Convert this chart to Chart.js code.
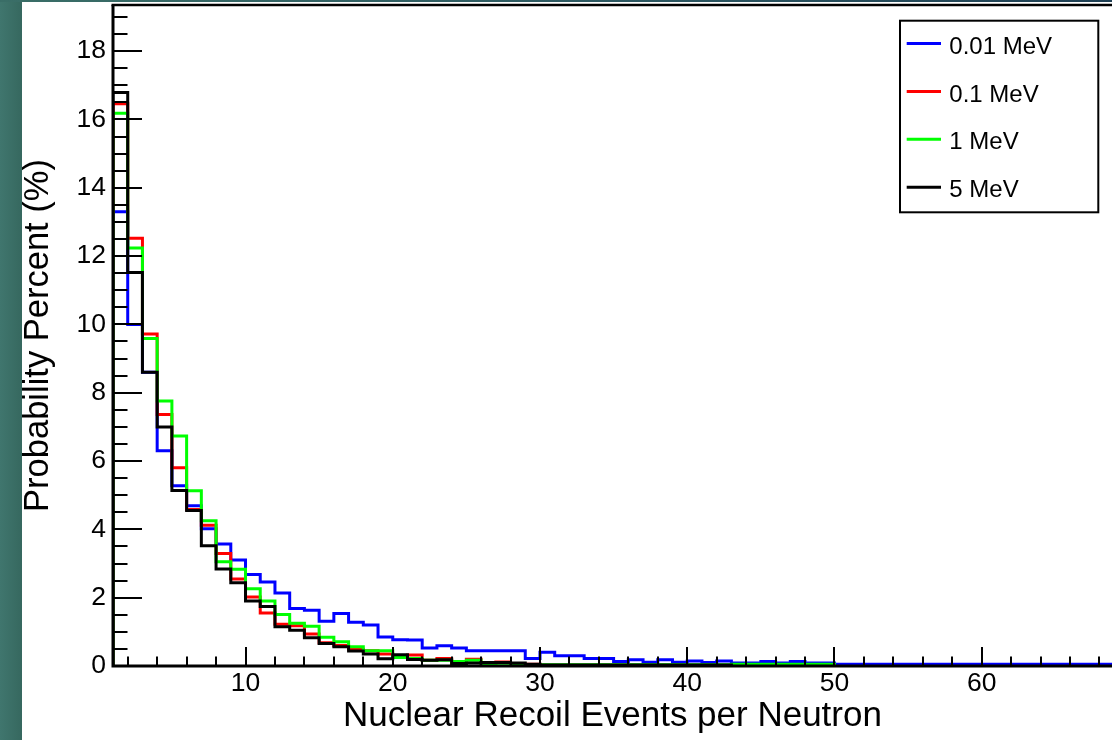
<!DOCTYPE html>
<html>
<head>
<meta charset="utf-8">
<script src="https://cdn.jsdelivr.net/npm/chart.js@4/dist/chart.umd.min.js"></script>
<style>
html,body{margin:0;padding:0;width:1112px;height:740px;overflow:hidden;background:linear-gradient(to right,#40766e 0px,#36685f 22px);}
#topband{position:absolute;left:0;top:0;width:1112px;height:2px;background:linear-gradient(to right,#3a6e67,#2b5660 60%,#1e3f53);}
#wrap{position:absolute;left:22px;top:2px;width:1090px;height:738px;background:#ffffff;}
canvas{display:block;}
</style>
</head>
<body>
<div id="topband"></div>
<div id="wrap"><canvas id="c" width="1090" height="738"></canvas></div>
<script>
// ---- data (bins of width 1 starting at 1) ----
const binStart = 1;
const binWidth = 1;
const seriesNames = ['0.01 MeV', '0.1 MeV', '1 MeV', '5 MeV'];
const seriesColors = ['#0000ff', '#ff0000', '#00ff00', '#000000'];

const blueValues = [13.3, 10.0, 8.6, 6.3, 5.28, 4.69, 4.02, 3.57, 3.10, 2.68,
  2.46, 2.14, 1.68, 1.63, 1.31, 1.54, 1.28, 1.20, 0.85, 0.77,
  0.76, 0.53, 0.59, 0.53, 0.45, 0.45, 0.45, 0.45, 0.22, 0.40,
  0.30, 0.30, 0.22, 0.22, 0.13, 0.18, 0.11, 0.18, 0.11, 0.15,
  0.10, 0.15, 0.09, 0.09, 0.13, 0.09, 0.13, 0.09, 0.09, 0.05,
  0.05, 0.05, 0.05, 0.05, 0.05, 0.05, 0.05, 0.05, 0.05, 0.05,
  0.05, 0.05, 0.05, 0.05, 0.05, 0.05, 0.05, 0.05, 0.05];

const redValues = [16.46, 12.52, 9.72, 7.36, 5.80, 4.58, 4.12, 3.29, 2.55, 2.02,
  1.55, 1.22, 1.18, 0.94, 0.68, 0.60, 0.49, 0.45, 0.35, 0.28,
  0.32, 0.17, 0.22, 0.08, 0.20, 0.06, 0.12, 0.03, 0.05, 0.02,
  0.02, 0.02, 0.02, 0.02, 0.02, 0.02, 0.02, 0.02, 0.02, 0.02,
  0.02, 0.02];

const greenValues = [16.18, 12.24, 9.59, 7.76, 6.73, 5.13, 4.25, 3.05, 2.83, 2.26,
  1.90, 1.51, 1.25, 1.16, 0.84, 0.71, 0.56, 0.45, 0.45, 0.25,
  0.22, 0.17, 0.17, 0.13, 0.17, 0.06, 0.08, 0.05, 0.04, 0.04,
  0.04, 0.04, 0.04, 0.04, 0.04, 0.04, 0.04, 0.04, 0.04, 0.04,
  0.04, 0.04, 0.05, 0.05, 0.05, 0.05, 0.05, 0.05, 0.05];

const blackValues = [16.79, 11.52, 8.60, 7.00, 5.14, 4.55, 3.52, 2.84, 2.44, 1.90,
  1.74, 1.15, 1.05, 0.83, 0.66, 0.56, 0.44, 0.35, 0.21, 0.33,
  0.19, 0.17, 0.18, 0.07, 0.09, 0.10, 0.10, 0.09, 0.05, 0.03,
  0.03, 0.03, 0.03, 0.03, 0.03, 0.03, 0.03, 0.03, 0.03, 0.03,
  0.03, 0.03];

const xTickLabels = [10, 20, 30, 40, 50, 60];
const yTickLabels = [0, 2, 4, 6, 8, 10, 12, 14, 16, 18];
const xMin = 1, xMax = 68.85;
const yMin = 0, yMax = 19.35;
const xMinorStep = 2, yMinorStep = 0.5;

const xTitle = 'Nuclear Recoil Events per Neutron';
const yTitle = 'Probability Percent (%)';

// ---- build histogram outlines ----
function histPoints(values) {
  const pts = [{x: binStart, y: 0}];
  values.forEach((v, i) => pts.push({x: binStart + i * binWidth, y: v}));
  pts.push({x: binStart + values.length * binWidth, y: 0});
  return pts;
}
const allValues = [blueValues, redValues, greenValues, blackValues];
const drawOrder = [3, 2, 1, 0]; // blue bottom ... black on top

const datasets = allValues.map((vals, i) => ({
  label: seriesNames[i],
  data: histPoints(vals),
  borderColor: seriesColors[i],
  backgroundColor: seriesColors[i],
  borderWidth: 3,
  pointRadius: 0,
  fill: false,
  stepped: 'before',
  tension: 0,
  borderJoinStyle: 'miter',
  borderCapStyle: 'butt',
  order: drawOrder[i]
}));

const FONT = '"Liberation Sans", Arial, Helvetica, sans-serif';

const xMinor = [];
for (let v = Math.ceil(xMin / xMinorStep) * xMinorStep; v <= xMax; v += xMinorStep) xMinor.push(v);
const yMinor = [];
for (let v = yMin; v <= yMax + 1e-9; v += yMinorStep) yMinor.push(Math.round(v * 100) / 100);

const rootFrame = {
  id: 'rootFrame',
  afterDatasetsDraw(chart) {
    const {ctx, chartArea: a, scales: {x, y}} = chart;
    ctx.save();
    ctx.strokeStyle = '#000';
    ctx.lineCap = 'butt';
    ctx.lineWidth = 2;
    ctx.beginPath();
    yMinor.forEach(v => {
      const major = yTickLabels.includes(v);
      const py = Math.round(y.getPixelForValue(v));
      ctx.moveTo(a.left, py);
      ctx.lineTo(a.left + (major ? 29 : 14.5), py);
    });
    xMinor.concat(xTickLabels).forEach(v => {
      const major = xTickLabels.includes(v);
      const px = Math.round(x.getPixelForValue(v));
      ctx.moveTo(px, a.bottom);
      ctx.lineTo(px, a.bottom - (major ? 19 : 9.5));
    });
    ctx.stroke();
    // frame
    ctx.lineWidth = 3;
    ctx.beginPath();
    ctx.moveTo(a.left, a.top);
    ctx.lineTo(a.left, a.bottom + 1.5);
    ctx.moveTo(a.left - 1.5, a.bottom);
    ctx.lineTo(a.right + 2, a.bottom);
    ctx.stroke();
    ctx.lineWidth = 2.5;
    ctx.beginPath();
    ctx.moveTo(a.left - 1.5, a.top);
    ctx.lineTo(a.right + 2, a.top);
    ctx.stroke();
    ctx.restore();
  },
  afterDraw(chart) {
    const ctx = chart.ctx;
    const bx = 878, by = 18.7, bw = 198.3, bh = 191.6;
    ctx.save();
    ctx.fillStyle = '#fff';
    ctx.fillRect(bx, by, bw, bh);
    ctx.strokeStyle = '#000';
    ctx.lineWidth = 2;
    ctx.strokeRect(bx, by, bw, bh);
    ctx.font = '24px ' + FONT;
    ctx.textBaseline = 'middle';
    ctx.textAlign = 'left';
    seriesNames.forEach((name, i) => {
      const ly = 41.5 + i * 47.9;
      ctx.strokeStyle = seriesColors[i];
      ctx.lineWidth = 3;
      ctx.beginPath();
      ctx.moveTo(884.7, ly);
      ctx.lineTo(919, ly);
      ctx.stroke();
      ctx.fillStyle = '#000';
      ctx.fillText(name, 927.3, ly + 3.5);
    });
    ctx.restore();
  }
};

new Chart(document.getElementById('c'), {
  type: 'line',
  data: {datasets},
  options: {
    responsive: false,
    animation: false,
    devicePixelRatio: 1,
    layout: {padding: {left: 0, top: 3, right: 0, bottom: 0}},
    plugins: {legend: {display: false}, tooltip: {enabled: false}},
    scales: {
      x: {
        type: 'linear',
        min: xMin,
        max: xMax,
        afterBuildTicks: s => { s.ticks = xTickLabels.map(v => ({value: v})); },
        afterFit: s => { s.height = 74; s.paddingLeft = 0; s.paddingRight = 0; },
        grid: {display: false, drawTicks: false},
        border: {display: false},
        ticks: {color: '#000', font: {family: FONT, size: 26.5}, padding: 2, maxRotation: 0, autoSkip: false},
        title: {display: true, text: xTitle, color: '#000', font: {family: FONT, size: 35, lineHeight: 1}, padding: {top: 0, bottom: 6.5}}
      },
      y: {
        type: 'linear',
        min: yMin,
        max: yMax,
        afterBuildTicks: s => { s.ticks = yTickLabels.map(v => ({value: v})); },
        afterFit: s => { s.width = 91; s.paddingTop = 0; s.paddingBottom = 0; },
        grid: {display: false, drawTicks: false},
        border: {display: false},
        ticks: {color: '#000', font: {family: FONT, size: 26.5}, padding: 7, autoSkip: false},
        title: {display: true, text: yTitle, color: '#000', font: {family: FONT, size: 34.5, lineHeight: 0.9}, padding: {top: 0.5, bottom: 0}}
      }
    }
  },
  plugins: [rootFrame]
});
</script>
</body>
</html>
